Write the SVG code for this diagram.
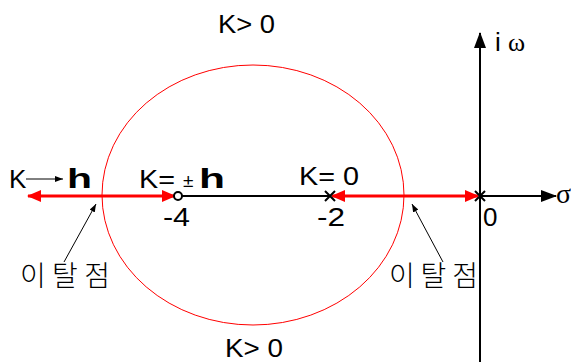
<svg xmlns="http://www.w3.org/2000/svg" width="571" height="362" viewBox="0 0 571 362">
<defs>
<style>
.t{font-family:"Liberation Sans",Arial,sans-serif;font-size:26px;fill:#000}
.b{font-family:"Liberation Sans",Arial,sans-serif;font-size:27px;font-weight:bold;fill:#000}
.s{font-family:"Liberation Serif","Times New Roman",serif;font-size:28px;fill:#000}
.k{font-family:"Noto Sans CJK KR","Liberation Sans",sans-serif;font-size:28px;font-weight:300;fill:#000}
.ax{stroke:#000;stroke-width:2;fill:none}
.red{stroke:#f00;stroke-width:3;fill:none}
.thin{stroke:#000;stroke-width:1;fill:none}
</style>
<marker id="ra" viewBox="0 0 14 12" refX="13" refY="6" markerWidth="14" markerHeight="12" markerUnits="userSpaceOnUse" orient="auto-start-reverse"><path d="M0,0 L14,6 L0,12 Z" fill="#f00"/></marker>
<marker id="ba" viewBox="0 0 16 12" refX="15" refY="6" markerWidth="16" markerHeight="12" markerUnits="userSpaceOnUse" orient="auto"><path d="M0,0 L16,6 L0,12 Z" fill="#000"/></marker>
<marker id="sa" viewBox="0 0 8 6" refX="8" refY="3" markerWidth="8" markerHeight="6" markerUnits="userSpaceOnUse" orient="auto"><path d="M0,0 L8,3 L0,6 Z" fill="#000"/></marker>
</defs>
<g id="circle"><ellipse cx="253" cy="195" rx="151" ry="130" fill="none" stroke="#f00" stroke-width="1"/></g>
<g id="connectors">
<line class="ax" x1="176" y1="196" x2="330" y2="196"/>
<line class="ax" x1="480" y1="196" x2="556" y2="196" marker-end="url(#ba)"/>
<line class="ax" x1="480" y1="362" x2="480" y2="33" marker-end="url(#ba)"/>
<line class="red" x1="28" y1="196" x2="175" y2="196" marker-start="url(#ra)" marker-end="url(#ra)"/>
<line class="red" x1="332" y1="196" x2="478" y2="196" marker-start="url(#ra)" marker-end="url(#ra)"/>
<line class="thin" x1="64" y1="262" x2="96" y2="204" marker-end="url(#sa)"/>
<line class="thin" x1="443" y1="262" x2="412" y2="204" marker-end="url(#sa)"/>
<line class="thin" x1="26" y1="179" x2="63" y2="179" marker-end="url(#sa)"/>
</g>
<g id="pole-m2"><path class="ax" d="M325,191 L335,201 M335,191 L325,201"/></g>
<g id="pole-0"><path class="ax" d="M475,191 L485,201 M485,191 L475,201"/></g>
<g id="zero-m4"><circle cx="178" cy="196" r="4" fill="#fff" stroke="#000" stroke-width="2"/></g>
<g id="labels">
<text class="t" x="218" y="33" textLength="57" lengthAdjust="spacingAndGlyphs">K&gt; 0</text>
<text class="t" x="225" y="357" textLength="58" lengthAdjust="spacingAndGlyphs">K&gt; 0</text>
<text class="t" x="9" y="188">K</text>
<text class="b" x="67" y="188" textLength="25" lengthAdjust="spacingAndGlyphs">h</text>
<text class="t" x="139" y="188" textLength="36" lengthAdjust="spacingAndGlyphs">K=</text>
<text class="t" x="183" y="187" style="font-size:19px">±</text>
<text class="b" x="199" y="188" textLength="26" lengthAdjust="spacingAndGlyphs">h</text>
<text class="t" x="163" y="226" textLength="27" lengthAdjust="spacingAndGlyphs">-4</text>
<text class="t" x="299" y="185" textLength="60" lengthAdjust="spacingAndGlyphs">K= 0</text>
<text class="t" x="317" y="226" textLength="28" lengthAdjust="spacingAndGlyphs">-2</text>
<text class="t" x="483" y="226">0</text>
<text class="s" x="556" y="203">σ</text>
<text x="495" y="51" style="font-family:'Liberation Sans',Arial,sans-serif;font-size:26px">i <tspan style="font-family:'Liberation Serif','Times New Roman',serif">ω</tspan></text>
<text class="k" x="20" y="286" textLength="90">이탈점</text>
<text class="k" x="389" y="286" textLength="89">이탈점</text>
</g>
</svg>
